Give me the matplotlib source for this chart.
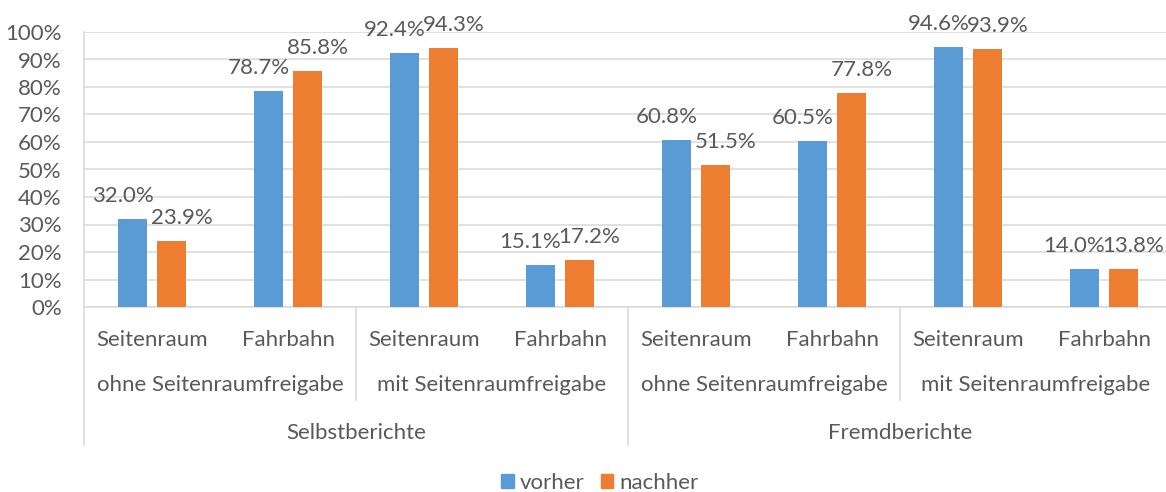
import numpy as np
import matplotlib
matplotlib.use("Agg")
import matplotlib.pyplot as plt
from matplotlib.patches import Patch
from matplotlib.ticker import PercentFormatter

plt.rcParams["font.family"] = ["Lato", "DejaVu Sans"]

# data
level1 = ["Seitenraum", "Fahrbahn"] * 4
level2 = ["ohne Seitenraumfreigabe", "mit Seitenraumfreigabe"] * 2
level3 = ["Selbstberichte", "Fremdberichte"]
vorher = [32.0, 78.7, 92.4, 15.1, 60.8, 60.5, 94.6, 14.0]
nachher = [23.9, 85.8, 94.3, 17.2, 51.5, 77.8, 93.9, 13.8]
series_names = ["vorher", "nachher"]

BLUE = "#5B9BD5"
ORANGE = "#ED7D31"
TEXT = "#595959"
GRID = "#D9D9D9"
FS = 16

W, H = 1166, 492
fig = plt.figure(figsize=(W / 100, H / 100), dpi=100)
ax = fig.add_axes([84 / W, (H - 307) / H, 1088 / W, 275 / H])

x = np.arange(len(vorher))
bw = 0.22
off = 0.1435
b1 = ax.bar(x - off, vorher, bw, color=BLUE, zorder=3)
b2 = ax.bar(x + off, nachher, bw, color=ORANGE, zorder=3)

# value labels (Excel nudges them apart sideways)
for bars, vals, dx in ((b1, vorher, -10), (b2, nachher, 10)):
    for r, v in zip(bars, vals):
        ax.annotate(f"{v:.1f}%", (r.get_x() + r.get_width() / 2, v),
                    xytext=(dx, 13), textcoords="offset pixels",
                    ha="center", va="bottom", fontsize=FS, color=TEXT,
                    annotation_clip=False)

ax.set_xlim(-0.5, 7.5)
ax.set_ylim(0, 100)
ax.set_yticks(np.arange(0, 101, 10))
ax.yaxis.set_major_formatter(PercentFormatter(decimals=0))
ax.tick_params(axis="y", length=0, pad=16, labelsize=FS, labelcolor=TEXT)
ax.set_xticks([])
ax.grid(axis="y", color=GRID, linewidth=1.1, zorder=0)
for s in ("top", "right"):
    ax.spines[s].set_visible(False)
for s in ("left", "bottom"):
    ax.spines[s].set_color(GRID)
    ax.spines[s].set_linewidth(1.1)

# multi-level category axis
trans = ax.get_xaxis_transform()
axh = 275
for i, lab in enumerate(level1):
    ax.annotate(lab, (i, 0), xycoords=trans, xytext=(0, -33), textcoords="offset pixels",
                ha="center", va="center", fontsize=FS, color=TEXT)
for j, lab in enumerate(level2):
    ax.annotate(lab, (2 * j + 0.5, 0), xycoords=trans, xytext=(0, -78),
                textcoords="offset pixels", ha="center", va="center", fontsize=FS, color=TEXT)
for k, lab in enumerate(level3):
    ax.annotate(lab, (4 * k + 1.5, 0), xycoords=trans, xytext=(0, -126),
                textcoords="offset pixels", ha="center", va="center", fontsize=FS, color=TEXT)

for xs, depth in ((-0.5, 138), (1.5, 93), (3.5, 138), (5.5, 93), (7.5, 138)):
    ax.plot([xs, xs], [0, -depth / axh], transform=trans, color=GRID,
            linewidth=1.1, clip_on=False)

handles = [Patch(color=BLUE), Patch(color=ORANGE)]
fig.legend(handles, series_names, loc="center", bbox_to_anchor=(600 / W, 1 - 483 / H),
           ncol=2, frameon=False, fontsize=FS, labelcolor=TEXT,
           handlelength=0.55, handleheight=0.55, handletextpad=0.3, columnspacing=0.7)

fig.savefig("out.png", dpi=100)
